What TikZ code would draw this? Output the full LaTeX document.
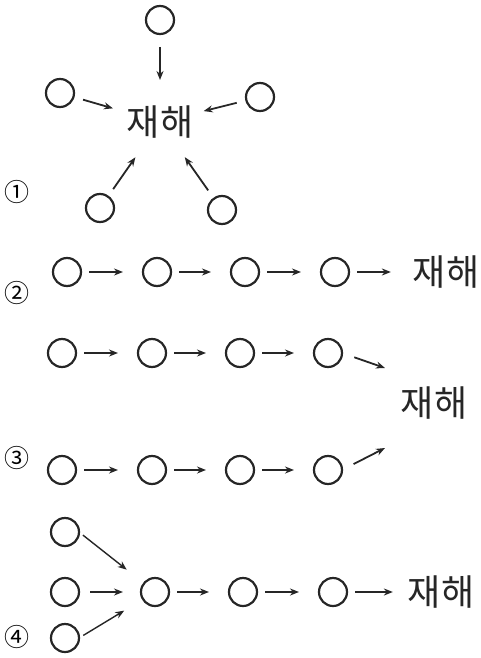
\documentclass[tikz,border=0pt]{standalone}
\usepackage{fontspec}
\newfontfamily\kr{Noto Sans CJK KR}
\usetikzlibrary{arrows.meta}
\begin{document}
\begin{tikzpicture}[x=1pt,y=-1pt,
  ev/.style={circle,draw=black!85,line width=2.2pt,minimum size=28pt,inner sep=0pt,outer sep=0pt},
  dis/.style={font=\kr\fontsize{36}{36}\selectfont,inner sep=0pt,outer sep=0pt,text=black!85},
  num/.style={font=\kr\fontsize{25}{25}\selectfont,inner sep=0pt},
  arr/.style={draw=black!85,line width=1.8pt,-{Stealth[length=9pt,width=7pt]}},
  ch/.style={arr,shorten <=8pt,shorten >=20pt}]
\useasboundingbox (0,0) rectangle (480,658);
% panel 1
\node[dis] (D1) at (160,122) {재해};
\node[ev] (T) at (160,20) {};
\node[ev] (L) at (60,93) {};
\node[ev] (R) at (260,97) {};
\node[ev] (BL) at (100,208) {};
\node[ev] (BR) at (222,210) {};
\draw[arr,shorten <=13pt,shorten >=42pt] (T) -- (D1.center);
\draw[arr,shorten <=10pt,shorten >=49pt] (L) -- (D1.center);
\draw[arr,shorten <=10pt,shorten >=45pt] (R) -- (D1.center);
\draw[arr,shorten <=9pt,shorten >=43pt] (BL) -- (D1.center);
\draw[arr,shorten <=10pt,shorten >=43pt] (BR) -- (D1.center);
\node[num] (n1) at (17,192) {①};
% panel 2
\node[ev] (a1) at (67,272) {};
\node[ev] (a2) at (157,272) {};
\node[ev] (a3) at (245,272) {};
\node[ev] (a4) at (335,272) {};
\node[dis] (D2) at (446,272) {재해};
\draw[ch] (a1) -- (a2);
\draw[ch] (a2) -- (a3);
\draw[ch] (a3) -- (a4);
\draw[ch,shorten >=22pt] (a4) -- (D2);
\node[num] (n2) at (17,293) {②};
% panel 3
\node[ev] (b1) at (62,353) {};
\node[ev] (b2) at (152,353) {};
\node[ev] (b3) at (240,353) {};
\node[ev] (b4) at (328,353) {};
\node[ev] (c1) at (62,470) {};
\node[ev] (c2) at (152,470) {};
\node[ev] (c3) at (240,470) {};
\node[ev] (c4) at (328,470) {};
\node[dis] (D3) at (434,403) {재해};
\coordinate (bend) at (385,368);
\coordinate (cend) at (385,448);
\draw[ch] (b1) -- (b2);
\draw[ch] (b2) -- (b3);
\draw[ch] (b3) -- (b4);
\draw[arr,shorten <=13pt] (b4.east) -- (bend);
\draw[ch] (c1) -- (c2);
\draw[ch] (c2) -- (c3);
\draw[ch] (c3) -- (c4);
\draw[arr,shorten <=13pt] (c4.east) -- (cend);
\node[num] (n3) at (17,458) {③};
% panel 4
\node[ev] (p) at (65,532) {};
\node[ev] (m0) at (65,592) {};
\node[ev] (q) at (65,638) {};
\node[ev] (m1) at (155,592) {};
\node[ev] (m2) at (243,592) {};
\node[ev] (m3) at (333,592) {};
\node[dis] (D4) at (441,592) {재해};
\draw[arr,line width=1.4pt,shorten <=5pt,shorten >=22pt] (p.east) -- (m1);
\draw[arr,line width=1.4pt,shorten <=5pt,shorten >=22pt] (q.east) -- (m1);
\draw[arr,shorten <=11pt,shorten >=18pt] (m0) -- (m1);
\draw[ch] (m1) -- (m2);
\draw[ch] (m2) -- (m3);
\draw[ch,shorten >=15pt] (m3) -- (D4);
\node[num] (n4) at (17,637) {④};
\end{tikzpicture}
\end{document}
